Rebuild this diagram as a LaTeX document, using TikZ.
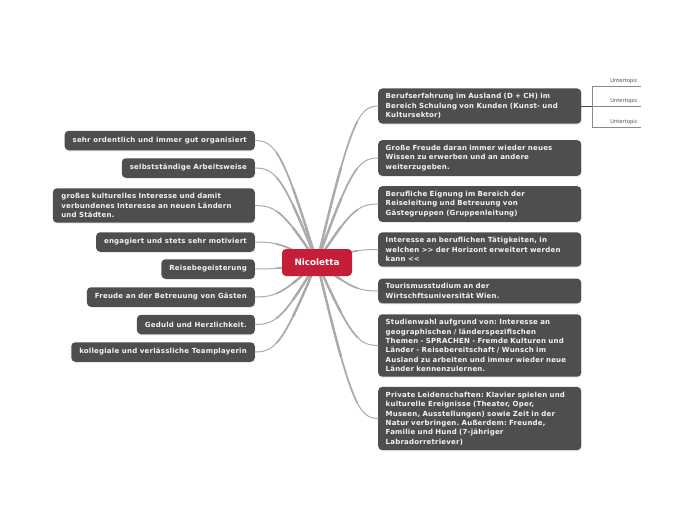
\documentclass[tikz,border=0pt]{standalone}
\usepackage{fontspec}
\newfontfamily\vfont{DejaVu Sans}
\usetikzlibrary{shadows,calc}
\frenchspacing
\definecolor{boxgray}{HTML}{4E4E4E}
\definecolor{boxtext}{HTML}{F4F4F4}
\definecolor{rootred}{HTML}{C61E38}
\definecolor{linkgray}{HTML}{ABABAB}
\definecolor{subgray}{HTML}{8A8A8A}
% tapered Bezier link: #1 start, #2 ctrl1, #3 ctrl2, #4 end
\newcommand\taperpart[5]{% #5 = t
  \coordinate (q1) at ($(#1)!#5!(#2)$);
  \coordinate (mm) at ($(#2)!#5!(#3)$);
  \coordinate (r2) at ($(#3)!#5!(#4)$);
  \coordinate (q2) at ($(q1)!#5!(mm)$);
  \coordinate (r1) at ($(mm)!#5!(r2)$);
  \coordinate (ss) at ($(q2)!#5!(r1)$);
}
\newcommand\taperlink[4]{%
  \taperpart{#1}{#2}{#3}{#4}{0.3}
  \draw[link, line width=2.4pt] (#1) .. controls (q1) and (q2) .. (ss);
  \taperpart{#1}{#2}{#3}{#4}{0.6}
  \draw[link, line width=1.7pt] (#1) .. controls (q1) and (q2) .. (ss);
  \draw[link, line width=1.0pt] (#1) .. controls (#2) and (#3) .. (#4);
}
\begin{document}
\begin{tikzpicture}[x=1pt,y=-1pt,
  topic/.style={fill=boxgray, text=boxtext, rounded corners=4pt,
    font=\vfont\bfseries\fontsize{7.0}{9.4}\selectfont\addfontfeature{LetterSpace=3}\frenchspacing,
    inner xsep=8pt, inner ysep=5pt,
    drop shadow={opacity=0.18, shadow xshift=0.6pt, shadow yshift=-1pt}},
  rtopic/.style={topic, anchor=west, text width=188pt, align=left, inner xsep=7.5pt},
  ltopic/.style={topic, anchor=east, align=left, minimum height=19.5pt},
  root/.style={fill=rootred, text=white, rounded corners=4pt,
    font=\vfont\bfseries\fontsize{8.8}{10}\selectfont,
    minimum width=70pt, minimum height=27pt, inner sep=0pt},
  link/.style={draw=linkgray, line cap=round},
  sub/.style={draw=subgray, line width=0.5pt},
  subtext/.style={font=\vfont\fontsize{5.2}{6}\selectfont, text=black!70, inner sep=0pt}
]
\useasboundingbox[fill=white] (0,0) rectangle (697,520);

% right topics
\node[rtopic] (n-r1) at (378,106) {Berufserfahrung im Ausland (D + CH) im\\Bereich Schulung von Kunden (Kunst- und\\Kultursektor)};
\node[rtopic] (n-r2) at (378,158) {Große Freude daran immer wieder neues\\Wissen zu erwerben und an andere\\weiterzugeben.};
\node[rtopic] (n-r3) at (378,204) {Berufliche Eignung im Bereich der\\Reiseleitung und Betreuung von\\Gästegruppen (Gruppenleitung)};
\node[rtopic] (n-r4) at (378,249.5) {Interesse an beruflichen Tätigkeiten, in\\welchen >\kern0pt> der Horizont erweitert werden\\kann <\kern0pt<};
\node[rtopic] (n-r5) at (378,291) {Tourismusstudium an der\\Wirtschftsuniversität Wien.};
\node[rtopic] (n-r6) at (378,345.5) {Studienwahl aufgrund von: Interesse an\\geographischen / länderspezifischen\\Themen - SPRACHEN - Fremde Kulturen und\\Länder - Reisebereitschaft / Wunsch im\\Ausland zu arbeiten und immer wieder neue\\Länder kennenzulernen.};
\node[rtopic] (n-r7) at (378,418.5) {Private Leidenschaften: Klavier spielen und\\kulturelle Ereignisse (Theater, Oper,\\Museen, Ausstellungen) sowie Zeit in der\\Natur verbringen. Außerdem: Freunde,\\Familie und Hund (7-jähriger\\Labradorretriever)};

% left topics
\node[ltopic] (n-l1) at (255,140.5) {sehr ordentlich und immer gut organisiert};
\node[ltopic] (n-l2) at (255,168) {selbstständige Arbeitsweise};
\node[ltopic, text width=185pt, inner xsep=8.5pt] (n-l3) at (255,205.5) {großes kulturelles Interesse und damit\\verbundenes Interesse an neuen Ländern\\und Städten.};
\node[ltopic] (n-l4) at (255,242) {engagiert und stets sehr motiviert};
\node[ltopic] (n-l5) at (255,269) {Reisebegeisterung};
\node[ltopic] (n-l6) at (255,297) {Freude an der Betreuung von Gästen};
\node[ltopic] (n-l7) at (255,324.5) {Geduld und Herzlichkeit.};
\node[ltopic] (n-l8) at (255,352) {kollegiale und verlässliche Teamplayerin};

% connectors (behind root)
\coordinate (c) at (317,262);
\foreach \n/\y in {r1/106,r2/158,r3/204,r4/249.5,r5/291,r6/345.5,r7/418.5}{
  \coordinate (k1) at (350,{\y+(262-\y)*0.12});
  \coordinate (k2) at (358,\y);
  \taperlink{c}{k1}{k2}{n-\n.west}
}
\foreach \n/\y in {l1/140.5,l2/168,l3/205.5,l4/242,l5/269,l6/297,l7/324.5,l8/352}{
  \coordinate (k1) at (284,{\y+(262-\y)*0.12});
  \coordinate (k2) at (276,\y);
  \taperlink{c}{k1}{k2}{n-\n.east}
}

\node[root] (root) at (317,262.5) {Nicoletta};

% subtopics
\coordinate (b) at (592,106);
\coordinate (bt) at (592,86);
\coordinate (bb) at (592,127);
\coordinate (e1) at (641,86);
\coordinate (e2) at (641,106);
\coordinate (e3) at (641,127);
\draw[draw=black!70, line width=0.6pt] (n-r1.east) -- (b);
\draw[sub] (bt) -- (bb);
\draw[sub] (bt) -- (e1);
\draw[sub] (b) -- (e2);
\draw[sub] (bb) -- (e3);
\node[subtext, anchor=south] (s1) at (624,83.5) {Untertopic};
\node[subtext, anchor=south] (s2) at (624,103.5) {Untertopic};
\node[subtext, anchor=south] (s3) at (624,124.5) {Untertopic};
\end{tikzpicture}
\end{document}
